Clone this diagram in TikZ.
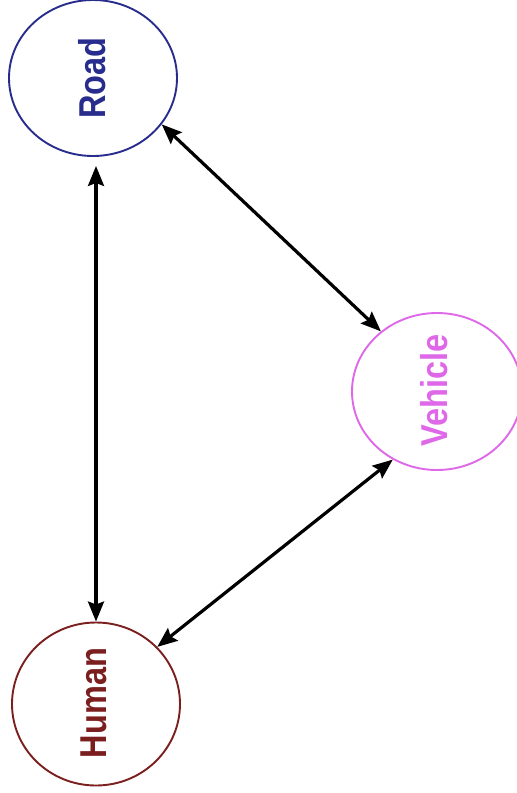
\documentclass[tikz,border=0pt]{standalone}
\usepackage{fontspec}
\setmainfont{Liberation Sans}
\usetikzlibrary{shapes.geometric,arrows.meta}

\definecolor{roadblue}{RGB}{40,44,140}
\definecolor{vehiclepink}{RGB}{222,104,232}
\definecolor{humanred}{RGB}{122,30,30}

\tikzset{
  actor/.style={ellipse, draw, line width=1.9pt, fill=white, inner sep=0pt},
  actorlabel/.style={rotate=90, inner sep=0pt, font=\fontsize{32.5}{34}\selectfont\bfseries},
  link/.style={line width=3.2pt, black,
    {Stealth[length=20pt,width=16pt,inset=3pt]}-{Stealth[length=20pt,width=16pt,inset=3pt]}}
}

\newcommand{\tallword}[1]{\scalebox{1}[1.15]{#1}}

\begin{document}
\begin{tikzpicture}[x=1pt,y=-1pt]
  \useasboundingbox (0,0) rectangle (517,793);

  % the three actors
  \node[actor, draw=roadblue, minimum width=168pt, minimum height=156pt] (road) at (93,78) {};
  \node[actor, draw=vehiclepink, minimum width=170pt, minimum height=157pt] (vehicle) at (437,391.5) {};
  \node[actor, draw=humanred, minimum width=168pt, minimum height=163pt] (human) at (96,704) {};

  \node[actorlabel, text=roadblue] (roadtext) at (92,78) {\tallword{Road}};
  \node[actorlabel, text=vehiclepink] (vehicletext) at (434,390) {\tallword{Vehicle}};
  \node[actorlabel, text=humanred] (humantext) at (94,703) {\tallword{Human}};

  % mutual influences
  \draw[link, shorten <=9pt] (human.north |- road.south) -- (human.north);
  \draw[link] (road.-34) -- (vehicle.133);
  \draw[link] (vehicle.237) -- (human.43);
\end{tikzpicture}
\end{document}
